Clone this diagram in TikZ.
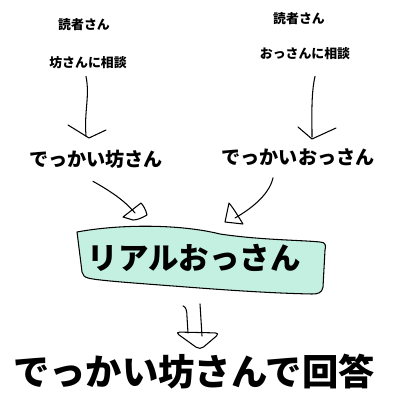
\documentclass[tikz,border=0pt]{standalone}
\usepackage{fontspec}
\newfontfamily\jp{Noto Sans CJK JP}
\usetikzlibrary{calc}
\definecolor{mint}{RGB}{196,240,226}

\begin{document}
\begin{tikzpicture}[x=0.03cm,y=-0.03cm,
    small/.style={inner sep=0pt, font=\jp\bfseries\fontsize{11}{12}\selectfont},
    mid/.style={inner sep=0pt, font=\jp\bfseries\fontsize{16.3}{17}\selectfont},
    big/.style={inner sep=0pt, font=\jp\bfseries\fontsize{26}{27}\selectfont},
    huge/.style={inner sep=0pt, font=\jp\bfseries\fontsize{31}{32}\selectfont},
    pen/.style={line width=0.9pt, line cap=round, line join=round}]
  % Canvas
  \useasboundingbox[fill=white] (0,0) rectangle (400,400);

  % Questions
  \node[small] (q1a) at (84,25) {読者さん};
  \node[small] (q1b) at (88,63) {坊さんに相談};
  \node[small] (q2a) at (299,19) {読者さん};
  \node[small] (q2b) at (305,54) {おっさんに相談};

  % Middle row
  \node[mid] (bigbo) at (96,159) {でっかい坊さん};
  \node[mid] (bigos) at (298,157) {でっかいおっさん};

  % Box
  \filldraw[pen, fill=mint] (77,232)
    .. controls (120,224) and (180,224) .. (220,234)
    .. controls (260,240) and (300,240) .. (320,242)
    .. controls (326,242) and (326,246) .. (325,250)
    -- (323,287)
    .. controls (322,293) and (318,294) .. (312,294)
    .. controls (260,293) and (200,288) .. (160,285)
    .. controls (120,282) and (95,280) .. (88,278)
    .. controls (84,277) and (83,275) .. (82,272)
    -- cycle;
  \node[big] (real) at (194,258) {リアルおっさん};

  % Answer
  \node[huge] (answer) at (194,372) {でっかい坊さんで回答};

  % === top arrows ===
  \coordinate (v1) at (89,138);
  \draw[pen] ($(q1b.south)+(-2,7)$) .. controls +(4,20) and +(-2,-25) .. ($(v1)+(-3,-2)$);
  \draw[pen] ($(v1)+(-21,-13)$) -- (v1) -- ($(v1)+(17,-8)$);

  \coordinate (v2) at (312,139);
  \draw[pen] ($(q2b.south)+(10,16)$) .. controls +(-4,18) and +(0,-22) .. ($(v2)+(0,-2)$);
  \draw[pen] ($(v2)+(-14,-12)$) -- (v2) -- ($(v2)+(24,-11)$);

  % === arrows into box ===
  \coordinate (v3) at (135,213);
  \draw[pen] ($(bigbo.south)+(-3,13)$) .. controls +(18,10) and +(-10,-12) .. (v3);
  \draw[pen] (123,217) -- (141,203) .. controls (143,205) and (146,210) .. (147,215)
    .. controls (142,218) and (137,220) .. (133,220) -- cycle;

  \coordinate (v4) at (235,218);
  \draw[pen] ($(bigos.south)+(-25,12)$) .. controls +(-4,18) and +(14,-8) .. (v4);
  \draw[pen] (229,203) -- (225,222) -- (243,224) .. controls (238,216) and (234,209) .. cycle;

  % === double arrow to answer ===
  \coordinate (v5) at (200,350);
  \draw[pen] ($(real.south)+(-11,34)$) .. controls +(3,1) and +(0,-6) .. ($(real.south)+(-7,45)$) -- ($(v5)+(-12,-17)$);
  \draw[pen] ($(real.south)+(6,32)$) -- ($(v5)+(2,-14)$);
  \draw[pen, rounded corners=4pt] ($(v5)+(-25,-18)$) -- ($(v5)+(20,-17)$) -- (v5) -- cycle;
\end{tikzpicture}
\end{document}
